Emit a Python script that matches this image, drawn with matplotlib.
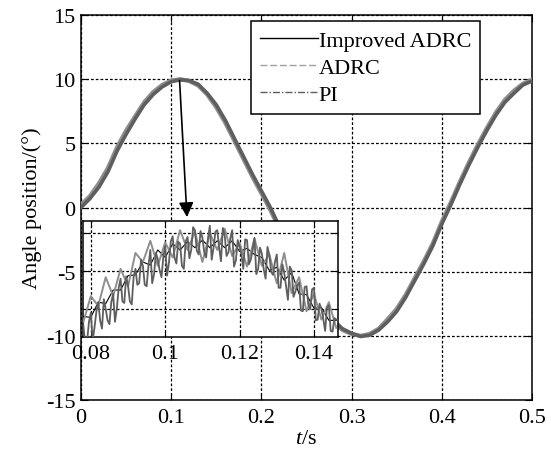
import numpy as np
import matplotlib.pyplot as plt

plt.rcParams['font.family'] = 'Liberation Serif'
plt.rcParams['mathtext.fontset'] = 'custom'
plt.rcParams['mathtext.rm'] = 'Liberation Serif'
plt.rcParams['mathtext.it'] = 'Liberation Serif:italic'
plt.rcParams['axes.unicode_minus'] = False

# main curves, sampled every 0.01 s
t = [0.00, 0.01, 0.02, 0.03, 0.04, 0.05, 0.06, 0.07, 0.08, 0.09,
     0.10, 0.11, 0.12, 0.13, 0.14, 0.15, 0.16, 0.17, 0.18, 0.19,
     0.20, 0.21, 0.22, 0.23, 0.24, 0.25, 0.26, 0.27, 0.28, 0.29,
     0.30, 0.31, 0.32, 0.33, 0.34, 0.35, 0.36, 0.37, 0.38, 0.39,
     0.40, 0.41, 0.42, 0.43, 0.44, 0.45, 0.46, 0.47, 0.48, 0.49, 0.50]
improved = [0.1, 0.8, 1.8, 3.0, 4.6, 5.9, 7.0, 8.1, 8.9, 9.5,
            9.85, 9.98, 9.9, 9.55, 8.85, 7.9, 6.7, 5.3, 3.9, 2.5,
            1.2, -0.1, -1.6, -3.1, -4.5, -5.9, -7.1, -8.1, -8.9, -9.5,
            -9.8, -10.0, -9.9, -9.5, -8.8, -8.0, -6.9, -5.6, -4.3, -2.9,
            -1.2, 0.3, 1.9, 3.4, 4.8, 6.1, 7.3, 8.3, 9.0, 9.6, 9.9]
adrc = [0.2, 0.9, 1.9, 3.1, 4.7, 6.0, 7.1, 8.2, 9.0, 9.55,
        9.9, 10.0, 9.85, 9.5, 8.8, 7.8, 6.6, 5.2, 3.8, 2.4,
        1.1, -0.2, -1.7, -3.2, -4.6, -6.0, -7.2, -8.2, -9.0, -9.55,
        -9.85, -10.0, -9.85, -9.45, -8.7, -7.9, -6.8, -5.5, -4.2, -2.8,
        -1.1, 0.4, 2.0, 3.5, 4.9, 6.2, 7.4, 8.4, 9.1, 9.65, 9.95]
pi_ctrl = [0.0, 0.7, 1.6, 2.8, 4.4, 5.7, 6.9, 8.0, 8.8, 9.4,
           9.8, 9.95, 9.9, 9.6, 8.9, 8.0, 6.8, 5.4, 4.0, 2.6,
           1.3, 0.0, -1.5, -3.0, -4.4, -5.8, -7.0, -8.0, -8.8, -9.45,
           -9.8, -10.05, -9.95, -9.55, -8.9, -8.1, -7.0, -5.7, -4.4, -3.0,
           -1.3, 0.2, 1.8, 3.3, 4.7, 6.0, 7.2, 8.2, 8.9, 9.55, 9.85]

# zoomed window around the peak
t_pi_zoom = np.arange(137) * 0.0005 + 0.078
pi_zoom = [8.78, 8.54, 8.58, 8.83, 8.95, 8.58, 8.76, 8.97, 9.09, 8.85,
           8.74, 9.13, 9.00, 8.85, 8.80, 9.09, 9.20, 8.83, 9.01, 9.28,
           9.40, 9.10, 9.08, 9.43, 9.31, 9.10, 9.06, 9.42, 9.53, 9.32,
           9.34, 9.65, 9.57, 9.32, 9.30, 9.57, 9.78, 9.34, 9.46, 9.74,
           9.66, 9.51, 9.42, 9.69, 9.83, 9.44, 9.61, 9.89, 9.96, 9.68,
           9.60, 9.89, 9.86, 9.57, 9.53, 9.89, 9.95, 9.67, 9.78, 10.08,
           10.04, 9.77, 9.72, 10.03, 9.94, 9.75, 9.68, 9.93, 10.10, 9.65,
           9.81, 10.02, 10.04, 9.81, 9.63, 10.07, 9.97, 9.70, 9.75, 9.93,
           10.04, 9.56, 9.64, 9.91, 9.82, 9.72, 9.53, 9.92, 9.91, 9.59,
           9.65, 9.77, 9.94, 9.46, 9.53, 9.81, 9.73, 9.52, 9.40, 9.82,
           9.71, 9.49, 9.45, 9.62, 9.72, 9.28, 9.28, 9.59, 9.48, 9.30,
           9.12, 9.56, 9.51, 9.16, 9.23, 9.31, 9.35, 8.98, 8.97, 9.29,
           9.30, 9.05, 9.00, 9.26, 9.28, 8.85, 8.86, 9.07, 9.00, 8.87,
           8.71, 9.02, 9.05, 8.71, 8.70, 8.88, 8.86]
t_zoom = np.arange(35) * 0.002 + 0.078
adrc_zoom = [8.83, 9.17, 9.04, 9.42, 9.17, 9.53, 9.30, 9.74, 9.62, 9.90,
             9.57, 9.88, 9.68, 10.04, 9.78, 10.02, 9.62, 10.00, 9.78, 10.06,
             9.70, 9.87, 9.56, 9.93, 9.57, 9.72, 9.34, 9.74, 9.21, 9.42,
             8.97, 9.20, 8.86, 9.09, 8.75]
improved_zoom = [8.90, 8.89, 9.09, 9.07, 9.25, 9.25, 9.44, 9.45, 9.62, 9.58,
                 9.78, 9.68, 9.86, 9.78, 9.89, 9.81, 9.91, 9.81, 9.90, 9.81,
                 9.90, 9.76, 9.80, 9.72, 9.68, 9.51, 9.55, 9.38, 9.48, 9.20,
                 9.19, 9.01, 9.02, 8.85, 8.85]

xticks = [0, 0.1, 0.2, 0.3, 0.4, 0.5]
xtick_labels = ['0', '0.1', '0.2', '0.3', '0.4', '0.5']
yticks = [-15, -10, -5, 0, 5, 10, 15]
zoom_xticks = [0.08, 0.1, 0.12, 0.14]
zoom_xtick_labels = ['0.08', '0.1', '0.12', '0.14']
zoom_yticks = [9.0, 9.5, 10.0]

c_adrc = '#8f8f8f'
c_pi = '#5e5e5e'
fs = 16
grid_kw = dict(color='black', linestyle=(0, (2.2, 1.6)), linewidth=0.9)

fig = plt.figure(figsize=(5.51, 4.52), dpi=100)
ax = fig.add_axes([0.147, 0.1128, 0.8185, 0.8518])

ax.plot(t, improved, color='black', lw=1.0, label='Improved ADRC', zorder=2)
ax.plot(t, adrc, color=c_adrc, lw=3.0, label='ADRC', zorder=3)
ax.plot(t, pi_ctrl, color=c_pi, lw=2.6, zorder=4)
ax.plot([], [], color=c_pi, lw=1.0, label='PI')

ax.set_xlim(0, 0.5)
ax.set_ylim(-15, 15)
ax.set_xticks(xticks)
ax.set_xticklabels(xtick_labels)
ax.set_yticks(yticks)
ax.tick_params(direction='in', top=True, right=True, length=5, labelsize=fs, pad=6)
ax.tick_params(axis='y', pad=4)
ax.grid(True, **grid_kw)
ax.set_axisbelow(True)
for s in ax.spines.values():
    s.set_linewidth(1.1)

ax.set_xlabel(r'$\mathit{t}$/s', fontsize=fs, labelpad=1)
ax.set_ylabel('Angle position/(°)', fontsize=fs, labelpad=3)

handles, labels = ax.get_legend_handles_labels()
leg = ax.legend(handles=handles, loc='upper right', bbox_to_anchor=(0.885, 0.984),
                borderaxespad=0, fontsize=fs, handlelength=2.6, handletextpad=0.05,
                labelspacing=0.3, borderpad=0.4, fancybox=False,
                edgecolor='black', framealpha=1)
leg.get_frame().set_linewidth(1.1)
leg.legend_handles[0].set_linewidth(1.0)
leg.legend_handles[1].set_linewidth(1.0)
leg.legend_handles[1].set_linestyle((0, (5, 2, 5, 2)))
leg.legend_handles[1].set_color('#a0a0a0')
leg.legend_handles[2].set_linestyle((0, (5, 1.5, 1, 1.5)))

ax.annotate('', xy=(0.1175, -0.75), xytext=(0.1093, 9.87),
            arrowprops=dict(arrowstyle='-|>', mutation_scale=22, color='black',
                            lw=1.2, shrinkA=0, shrinkB=0), zorder=6)

# inset
axz = fig.add_axes([0.150, 0.2529, 0.463, 0.2553])
axz.plot(t_zoom, improved_zoom, color='black', lw=0.8, zorder=2)
axz.plot(t_zoom, adrc_zoom, color=c_adrc, lw=1.4, zorder=3)
axz.plot(t_pi_zoom, pi_zoom, color=c_pi, lw=1.3, zorder=4)
axz.set_xlim(0.0778, 0.1464)
axz.set_ylim(8.634, 10.158)
axz.set_xticks(zoom_xticks)
axz.set_xticklabels(zoom_xtick_labels)
axz.set_yticks(zoom_yticks)
axz.set_yticklabels([])
axz.tick_params(direction='in', top=True, right=True, length=4, labelsize=fs, pad=5)
axz.grid(True, **grid_kw)
axz.set_axisbelow(True)
for s in axz.spines.values():
    s.set_linewidth(1.1)

fig.savefig('out.png', dpi=100)
